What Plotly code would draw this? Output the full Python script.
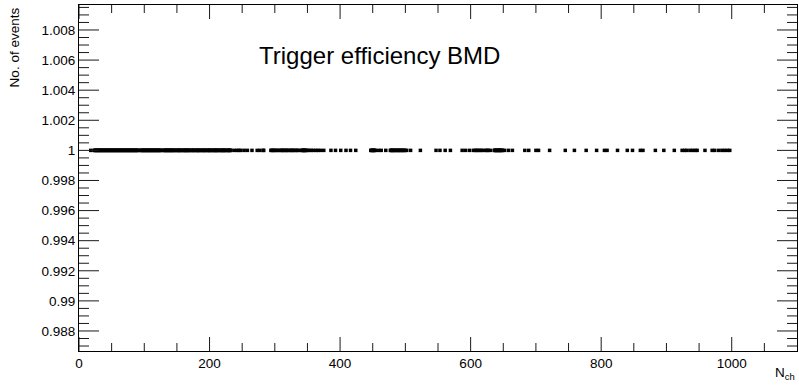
import plotly.graph_objects as go

# Occupied N_ch bins (efficiency = 1 everywhere)
gaps_dense = [92, 93, 127, 128, 148, 158, 171, 178, 187, 195, 204, 215, 226]
dense = [v for v in range(23, 234) if v not in gaps_dense]
sparse = [18] + [238, 242, 245, 248, 253, 258, 265, 273, 277, 282, 283,
          294, 295, 297, 298, 300, 302, 304, 306, 309, 310, 312, 313, 315, 317, 318,
          320, 322, 324, 326, 327, 329, 331, 333, 335, 337,
          341, 342, 343, 344, 345, 346, 347, 348, 350, 353, 356, 359, 363, 366, 370,
          375, 386, 393, 401, 409, 416, 424,
          447, 448, 449, 450, 451, 452, 453, 454, 459, 463, 470,
          477, 478, 479, 480, 481, 482, 484, 485, 486, 488, 489, 490, 492, 493, 494, 496,
          497, 498, 500, 502, 508, 523, 547, 553, 561, 569,
          587, 592, 598, 604, 607, 609, 611, 614, 616, 619, 623, 625, 627, 630,
          636, 637, 638, 639, 640, 641, 642, 643, 644, 645, 646, 647, 648, 649,
          652, 658, 664, 683, 689, 700, 704, 721, 745, 759, 777, 793, 805, 809,
          825, 840, 848, 860, 864, 883, 896, 912, 924, 928, 931, 936, 940, 944, 947,
          959, 970, 974, 980, 985, 989, 993, 997]
n_ch = sorted(set(dense + sparse))
efficiency = [1.0] * len(n_ch)

X_RANGE = [0, 1100]
Y_RANGE = [0.98667, 1.00966]
x_major = [0, 200, 400, 600, 800, 1000]
x_major_text = ["0", "200", "400", "600", "800", "1000"]
y_major = [0.988, 0.99, 0.992, 0.994, 0.996, 0.998, 1.0, 1.002, 1.004, 1.006, 1.008]
y_major_text = ["0.988", "0.99", "0.992", "0.994", "0.996", "0.998", "1",
                "1.002", "1.004", "1.006", "1.008"]
x_minor = [v for v in range(50, 1100, 50) if v % 200 != 0]
y_minor = [round(0.987 + 0.0005 * i, 4) for i in range(0, 46)]
y_minor = [v for v in y_minor if Y_RANGE[0] < v < Y_RANGE[1]
           and all(abs(v - m) > 1e-6 for m in y_major)]

FONT = "Liberation Sans, Arial, Helvetica, sans-serif"
TICKCOL = "#1a1a1a"

fig = go.Figure()
fig.add_trace(go.Scatter(
    x=n_ch, y=efficiency, mode="markers",
    marker=dict(symbol="square", size=3.5, color="black", line=dict(width=0)),
    showlegend=False, hoverinfo="x+y",
))

# ROOT-style inside ticks on all four sides, placed through the axis scales
shapes = []
for vals, length in ((x_major, 14), (x_minor, 8)):
    for v in vals:
        for anchor, sign in ((0, 1), (1, -1)):
            shapes.append(dict(type="line", xref="x", yref="paper", x0=v, x1=v,
                               ysizemode="pixel", yanchor=anchor, y0=0, y1=sign * length,
                               line=dict(color=TICKCOL, width=1), layer="above"))
for vals, length in ((y_major, 20), (y_minor, 10)):
    for v in vals:
        for anchor, sign in ((0, 1), (1, -1)):
            shapes.append(dict(type="line", yref="y", xref="paper", y0=v, y1=v,
                               xsizemode="pixel", xanchor=anchor, x0=0, x1=sign * length,
                               line=dict(color=TICKCOL, width=1), layer="above"))

fig.update_layout(
    width=799, height=386,
    margin=dict(l=79, r=2, t=5, b=35),
    paper_bgcolor="white", plot_bgcolor="white",
    shapes=shapes,
    xaxis=dict(range=X_RANGE, showgrid=False, zeroline=False,
               tickmode="array", tickvals=x_major, ticktext=x_major_text,
               ticks="", tickfont=dict(family=FONT, size=13.5, color="black"),
               showline=True, linecolor="black", linewidth=1, mirror=True),
    yaxis=dict(range=Y_RANGE, showgrid=False, zeroline=False,
               tickmode="array", tickvals=y_major, ticktext=y_major_text,
               ticks="", tickfont=dict(family=FONT, size=13.5, color="black"),
               showline=True, linecolor="black", linewidth=1, mirror=True),
    annotations=[
        dict(text="Trigger efficiency BMD", x=0.248, y=1.0063, xref="paper", yref="y",
             showarrow=False, xanchor="left", yanchor="middle",
             font=dict(family=FONT, size=24, color="black")),
        dict(text="No. of events", x=-0.09, y=1.0, xref="paper", yref="paper",
             showarrow=False, textangle=-90, xanchor="center", yanchor="top",
             font=dict(family=FONT, size=13.5, color="black")),
        dict(text="N<sub>ch</sub>", x=1.0, y=-0.035, xref="paper", yref="paper",
             showarrow=False, xanchor="right", yanchor="top",
             font=dict(family=FONT, size=13.5, color="black")),
    ],
)

fig.write_html("out.html")
